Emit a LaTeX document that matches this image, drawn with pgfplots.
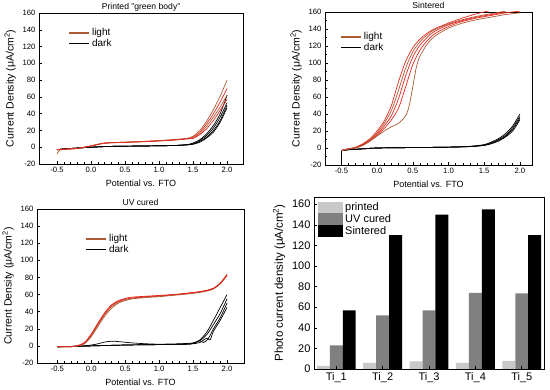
\documentclass[border=0pt]{standalone}
\usepackage{fontspec}
\setmainfont{Liberation Sans}
\usepackage{pgfplots}
\pgfplotsset{compat=1.18}
\definecolor{lred}{HTML}{E6281E}
\definecolor{lbrown}{HTML}{AA5A32}
\definecolor{pgray}{HTML}{C8C8C8}
\definecolor{ugray}{HTML}{808080}
\pgfplotsset{
 cv/.style={
  scale only axis,
  ymin=-20, ymax=160,
  xtick={-0.5,0,0.5,1,1.5,2},
  ytick={-20,0,20,40,60,80,100,120,140,160},
  minor x tick num=4, minor y tick num=1,
  tick align=inside, tick pos=left,
  major tick length=3pt, minor tick length=1.5pt,
  axis line style={line width=0.6pt},
  every tick/.style={black, line width=0.5pt},
  /pgf/number format/assume math mode=true,
  xticklabel style={/pgf/number format/.cd,fixed,fixed zerofill,precision=1},
  tick label style={font=\fontsize{7.7}{8}\selectfont},
  xlabel style={font=\fontsize{9}{10}\selectfont},
  ylabel style={font=\fontsize{10.5}{11}\selectfont},
  every axis title/.style={font=\fontsize{8.6}{9}\selectfont, at={(0.5,1)}, anchor=base, inner sep=0pt, yshift=3pt},
  xlabel={Potential vs. FTO},
  ylabel={Current Density (μA/cm\textsuperscript{2})},
  legend style={draw=none, fill=none, font=\fontsize{10}{11}\selectfont, row sep=-2pt, inner sep=1pt},
  legend cell align=left,
  legend image code/.code={\draw[#1, line width=1.3pt] (0pt,0pt) -- (20pt,0pt);},
  every axis plot/.append style={smooth, line width=0.7pt, forget plot},
 },
}
\begin{document}
\begin{tikzpicture}
\useasboundingbox (0,0) rectangle (550pt,390pt);
% ---------------- Panel 1: printed
\begin{axis}[cv, at={(39pt,226pt)}, anchor=south west, width=204pt, height=151pt,
  xmin=-0.765, xmax=2.235, title={Printed "green body"},
  legend style={at={(0.14,0.917)}, anchor=north west}]
\addlegendimage{lbrown}\addlegendentry{light}
\addlegendimage{black}\addlegendentry{dark}
\addplot[black] coordinates {(-0.5,-3)(-0.4,-2)(-0.2,-1)(0.0,0)(0.3,1)(0.8,1.5)(1.2,2)(1.4,3)(1.5,5)(1.6,9)(1.7,16)(1.8,26)(1.9,40)(2.0,62)};
\addplot[black] coordinates {(-0.5,-3)(-0.4,-2)(-0.2,-1)(0.0,0)(0.3,1)(0.8,1.5)(1.2,2)(1.4,3)(1.5,4)(1.6,8)(1.7,14)(1.8,23)(1.9,36)(2.0,53)};
\addplot[black] coordinates {(-0.5,-3)(-0.4,-2)(-0.2,-1)(0.0,0)(0.3,1)(0.8,1.5)(1.2,2)(1.4,2.8)(1.5,4)(1.6,7)(1.7,12)(1.8,20)(1.9,32)(2.0,50)};
\addplot[black] coordinates {(-0.5,-3)(-0.4,-2)(-0.2,-1)(0.0,0)(0.3,1)(0.8,1.5)(1.2,2)(1.4,2.6)(1.5,3.5)(1.6,6)(1.7,11)(1.8,18)(1.9,30)(2.0,47)};
\addplot[lbrown] coordinates {(-0.5,-8)(-0.45,-3)(-0.3,-2)(-0.2,-1.5)(-0.1,0)(0.0,1.5)(0.1,3.5)(0.2,5)(0.3,5.5)(0.5,6)(0.8,7)(1.0,8)(1.2,9)(1.4,10.5)(1.5,13)(1.6,20)(1.7,31)(1.8,45)(1.9,61)(2.0,80)};
\addplot[lred] coordinates {(-0.5,-3)(-0.3,-2)(-0.2,-1.5)(-0.1,0)(0.0,1.5)(0.1,3.5)(0.2,5)(0.3,5.5)(0.5,6)(0.8,7)(1.0,7.8)(1.2,8.8)(1.4,10.2)(1.5,12)(1.6,18)(1.7,28)(1.8,40)(1.9,54)(2.0,70)};
\addplot[lbrown] coordinates {(-0.5,-3)(-0.3,-2)(-0.2,-1.5)(-0.1,0)(0.0,1.5)(0.1,3.3)(0.2,4.8)(0.3,5.3)(0.5,5.8)(0.8,6.8)(1.0,7.6)(1.2,8.5)(1.4,10)(1.5,11)(1.6,16)(1.7,25)(1.8,36)(1.9,48)(2.0,62)};
\addplot[lred] coordinates {(-0.5,-3)(-0.3,-2)(-0.2,-1.5)(-0.1,0)(0.0,1.5)(0.1,3.2)(0.2,4.6)(0.3,5.2)(0.5,5.7)(0.8,6.6)(1.0,7.4)(1.2,8.3)(1.4,9.8)(1.5,10.5)(1.6,15)(1.7,22)(1.8,32)(1.9,44)(2.0,57)};
\end{axis}
% ---------------- Panel 2: sintered
\begin{axis}[cv, at={(325pt,225pt)}, anchor=south west, width=207pt, height=153pt,
  xmin=-0.73, xmax=2.17, title={Sintered},
  legend style={at={(0.07,0.886)}, anchor=north west}]
\addlegendimage{lbrown}\addlegendentry{light}
\addlegendimage{black}\addlegendentry{dark}
\addplot[black, sharp plot] coordinates {(-0.5,-20)(-0.5,-3)};
\addplot[black] coordinates {(-0.5,-3)(-0.4,-2)(-0.2,-1)(0.0,0)(0.5,0.5)(1.0,1)(1.3,2)(1.5,4)(1.6,7)(1.7,11)(1.8,17)(1.9,26)(2.0,40)};
\addplot[black] coordinates {(-0.5,-3)(-0.4,-2)(-0.2,-1)(0.0,0)(0.5,0.5)(1.0,1)(1.3,1.8)(1.5,3.5)(1.6,6)(1.7,10)(1.8,15)(1.9,24)(2.0,37)};
\addplot[black] coordinates {(-0.5,-3)(-0.4,-2)(-0.2,-1)(0.0,0)(0.5,0.5)(1.0,1)(1.3,1.7)(1.5,3.2)(1.6,5.5)(1.7,9)(1.8,14)(1.9,22)(2.0,35)};
\addplot[black] coordinates {(-0.5,-3)(-0.4,-2)(-0.2,-1)(0.0,0)(0.5,0.5)(1.0,1)(1.3,1.6)(1.5,3)(1.6,5)(1.7,8)(1.8,13)(1.9,20)(2.0,33)};
\addplot[lred] coordinates {(-0.5,-3)(-0.4,-1)(-0.3,1)(-0.2,5)(-0.1,11)(0.0,20)(0.1,32)(0.2,50)(0.3,78)(0.4,102)(0.5,118)(0.6,128)(0.7,135)(0.8,140)(1.0,147)(1.2,153)(1.4,158)(1.6,162)};
\addplot[lbrown] coordinates {(-0.5,-3)(-0.4,-1)(-0.3,0.5)(-0.2,4)(-0.1,10)(0.0,18)(0.1,29)(0.2,44)(0.3,68)(0.4,94)(0.5,113)(0.6,125)(0.7,133)(0.8,139)(1.0,146)(1.2,151)(1.4,155)(1.6,158)(1.8,161)};
\addplot[lred] coordinates {(-0.5,-3)(-0.4,-1)(-0.3,0.5)(-0.2,4)(-0.1,9)(0.0,16)(0.1,26)(0.2,38)(0.3,58)(0.4,85)(0.5,107)(0.6,121)(0.7,130)(0.8,137)(1.0,145)(1.2,150)(1.4,154)(1.6,157)(1.8,160)};
\addplot[lred] coordinates {(-0.5,-3)(-0.4,-1)(-0.3,0.3)(-0.2,3.5)(-0.1,8.5)(0.0,15)(0.1,23)(0.2,33)(0.3,47)(0.4,72)(0.5,98)(0.6,115)(0.7,126)(0.8,134)(1.0,143)(1.2,149)(1.4,153)(1.6,156)(1.8,159)(2.0,161)};
\addplot[lbrown] coordinates {(-0.5,-3)(-0.4,-1)(-0.3,0)(-0.2,3)(-0.1,8)(0.0,14)(0.1,20)(0.2,25)(0.3,29)(0.4,38)(0.45,50)(0.5,72)(0.55,95)(0.6,108)(0.7,122)(0.8,131)(1.0,141)(1.2,147)(1.4,151)(1.6,154)(1.8,157)(2.0,159)};
\end{axis}
% ---------------- Panel 3: UV cured
\begin{axis}[cv, at={(37pt,27pt)}, anchor=south west, width=207pt, height=154pt,
  xmin=-0.8, xmax=2.25, title={UV cured},
  legend style={at={(0.23,0.854)}, anchor=north west}]
\addlegendimage{lbrown}\addlegendentry{light}
\addlegendimage{black}\addlegendentry{dark}
\addplot[black] coordinates {(-0.5,-1)(-0.2,-0.5)(0.0,1)(0.1,2.5)(0.2,4.5)(0.3,5.5)(0.4,5)(0.6,3.5)(0.8,2.5)(1.0,2)(1.3,2.5)(1.5,3.5)(1.6,7)(1.7,16)(1.8,30)(1.9,45)(2.0,60)};
\addplot[black] coordinates {(-0.5,-1)(0.0,0)(0.5,1)(1.0,1.5)(1.4,2)(1.5,3)(1.6,6)(1.7,13)(1.8,25)(1.9,38)(2.0,55)};
\addplot[black] coordinates {(-0.5,-1)(0.0,0)(0.5,1)(1.0,1.5)(1.4,2)(1.5,3)(1.6,6)(1.65,4)(1.72,8)(1.8,20)(1.9,33)(2.0,50)};
\addplot[black] coordinates {(-0.5,-1)(0.0,0)(0.5,1)(1.0,1.5)(1.4,2)(1.5,2.5)(1.6,4)(1.7,9)(1.75,7)(1.8,17)(1.9,30)(2.0,45)};
\addplot[lbrown] coordinates {(-0.5,-1)(-0.3,-1)(-0.2,0)(-0.1,3)(0.0,12)(0.1,25)(0.2,37)(0.3,46)(0.4,51)(0.5,54)(0.6,55.5)(0.8,57)(1.0,58)(1.2,59.5)(1.4,61)(1.6,63)(1.7,64.5)(1.8,67)(1.9,73)(2.0,83)};
\addplot[lred] coordinates {(-0.5,-1)(-0.3,-1)(-0.2,0.5)(-0.1,4)(0.0,14)(0.1,27)(0.2,39)(0.3,48)(0.4,53)(0.5,55.5)(0.6,57)(0.8,58)(1.0,59)(1.2,60)(1.4,61.5)(1.6,63.5)(1.7,65)(1.8,67.5)(1.9,73.5)(2.0,83.5)};
\addplot[lbrown] coordinates {(-0.5,-1)(-0.3,-1)(-0.2,0)(-0.1,2.5)(0.0,11)(0.1,23)(0.2,35)(0.3,44)(0.4,50)(0.5,53)(0.6,55)(0.8,56.5)(1.0,57.5)(1.2,59)(1.4,60.5)(1.6,62.5)(1.7,64)(1.8,66.5)(1.9,72.5)(2.0,82)};
\addplot[lred] coordinates {(-0.5,-1)(-0.3,-1)(-0.2,0.2)(-0.1,3.5)(0.0,13)(0.1,26)(0.2,38)(0.3,47)(0.4,52)(0.5,54.5)(0.6,56)(0.8,57.5)(1.0,58.5)(1.2,59.8)(1.4,61.2)(1.6,63.2)(1.7,64.8)(1.8,67.2)(1.9,73)(2.0,83)};
\end{axis}
% ---------------- Panel 4: bars
\begin{axis}[scale only axis, at={(314pt,21pt)}, anchor=south west, width=230pt, height=172pt,
  xmin=0.52, xmax=5.48, ymin=0, ymax=167,
  xtick={1,2,3,4,5}, xticklabels={Ti\_1,Ti\_2,Ti\_3,Ti\_4,Ti\_5},
  ytick={0,20,40,60,80,100,120,140,160},
  tick align=inside, tick pos=left, major tick length=3pt,
  axis line style={line width=0.6pt},
  every tick/.style={black, line width=0.5pt},
  axis on top,
  /pgf/number format/assume math mode=true,
  tick label style={font=\fontsize{11}{12}\selectfont},
  ylabel style={font=\fontsize{11.5}{12}\selectfont},
  ylabel={Photo current density (μA/cm\textsuperscript{2})},
  legend style={at={(0.013,0.985)}, anchor=north west, draw=none, fill=none,
    font=\fontsize{11}{12}\selectfont, row sep=-1.5pt, inner sep=1pt},
  legend cell align=left,
  legend image code/.code={\fill[#1] (0pt,-6pt) rectangle (25pt,6pt);},
]
\addlegendimage{fill=pgray, draw=none}\addlegendentry{printed}
\addlegendimage{fill=ugray, draw=none}\addlegendentry{UV cured}
\addlegendimage{fill=black, draw=none}\addlegendentry{Sintered}
\addplot[ybar, bar width=0.28, bar shift=0pt, fill=pgray, draw=none, forget plot] coordinates {(0.72,3)(1.72,6)(2.72,7.5)(3.72,6)(4.72,8)};
\addplot[ybar, bar width=0.28, bar shift=0pt, fill=ugray, draw=none, forget plot] coordinates {(1,23)(2,52)(3,57)(4,74)(5,73.5)};
\addplot[ybar, bar width=0.28, bar shift=0pt, fill=black, draw=none, forget plot] coordinates {(1.28,57)(2.28,130)(3.28,150)(4.28,155)(5.28,130)};
\end{axis}
\end{tikzpicture}
\end{document}
